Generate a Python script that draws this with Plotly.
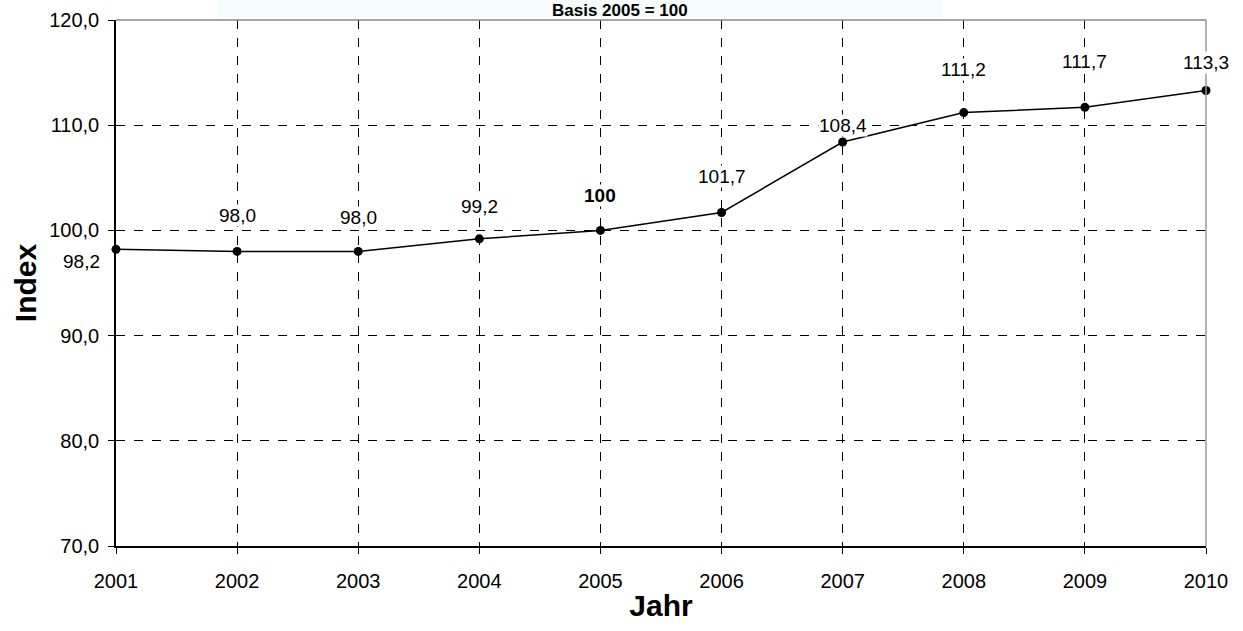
import plotly.graph_objects as go

years = [2001, 2002, 2003, 2004, 2005, 2006, 2007, 2008, 2009, 2010]
index_values = [98.2, 98.0, 98.0, 99.2, 100.0, 101.7, 108.4, 111.2, 111.7, 113.3]
label_texts = ["98,2", "98,0", "98,0", "99,2", "<b>100</b>", "101,7", "108,4", "111,2", "111,7", "113,3"]
y_ticks = [70, 80, 90, 100, 110, 120]

# label offsets in pixels (x, y) relative to each point
label_dx = [-35, 0, 0, 0, 0, 0, 0, 0, 0, 0]
label_dy = [-12, 36, 34, 32, 35, 36, 17, 43, 46, 28]

FONT = "Liberation Sans, Arial, sans-serif"

fig = go.Figure()
fig.add_trace(go.Scatter(
    x=years, y=index_values, mode="lines+markers",
    line=dict(color="black", width=1.5),
    marker=dict(color="black", size=9),
    showlegend=False, hoverinfo="skip", cliponaxis=False,
))

annotations = []
for x, y, t, dx, dy in zip(years, index_values, label_texts, label_dx, label_dy):
    annotations.append(dict(
        x=x, y=y, xref="x", yref="y", text=t, showarrow=False,
        xshift=dx, yshift=dy, bgcolor="white", borderpad=0,
        font=dict(family=FONT, size=19, color="black"),
    ))

annotations.append(dict(
    x=(620 - 116) / 1090, y=1, xref="paper", yref="paper",
    text="<b>Basis 2005 = 100</b>", showarrow=False, yshift=10,
    yanchor="middle", font=dict(family=FONT, size=17, color="black"),
))

fig.update_layout(
    width=1243, height=631,
    margin=dict(l=116, r=37, t=20, b=85),
    paper_bgcolor="white", plot_bgcolor="white",
    separators=",.",
    font=dict(family=FONT, color="black"),
    annotations=annotations,
    shapes=[
        dict(type="rect", xref="paper", yref="paper", x0=(218 - 116) / 1090, x1=(943 - 116) / 1090,
             y0=1 + 1 / 526, y1=1 + 21 / 526, fillcolor="#f6fbfb", line=dict(width=0), layer="below"),
        dict(type="line", xref="paper", yref="paper", x0=0, x1=1, y0=1, y1=1,
             line=dict(color="#888888", width=1.5), layer="above"),
        dict(type="line", xref="paper", yref="paper", x0=1, x1=1, y0=0, y1=1,
             line=dict(color="#999999", width=1.5), layer="above"),
    ],
    xaxis=dict(
        range=[2001, 2010], tickmode="array", tickvals=years,
        ticktext=[str(y) for y in years], automargin=False,
        showgrid=True, gridcolor="black", griddash="dash", gridwidth=1,
        showline=True, linecolor="black", linewidth=1.5,
        ticks="outside", ticklen=6, tickcolor="black", ticklabelstandoff=10,
        tickfont=dict(family=FONT, size=20),
        title=dict(text="<b>Jahr</b>", font=dict(family=FONT, size=30), standoff=4),
        zeroline=False,
    ),
    yaxis=dict(
        range=[70, 120], tickmode="array", tickvals=y_ticks, tickformat=".1f",
        automargin=False,
        showgrid=True, gridcolor="black", griddash="dash", gridwidth=1,
        showline=True, linecolor="black", linewidth=1.5,
        ticks="outside", ticklen=6, tickcolor="black", ticklabelstandoff=5,
        tickfont=dict(family=FONT, size=20),
        title=dict(text="<b>Index</b>", font=dict(family=FONT, size=30), standoff=4),
        zeroline=False,
    ),
)

fig.write_html(
    "out.html",
    config={"displayModeBar": False},
    post_script="document.body.style.margin='0';document.body.style.overflow='hidden';",
)
